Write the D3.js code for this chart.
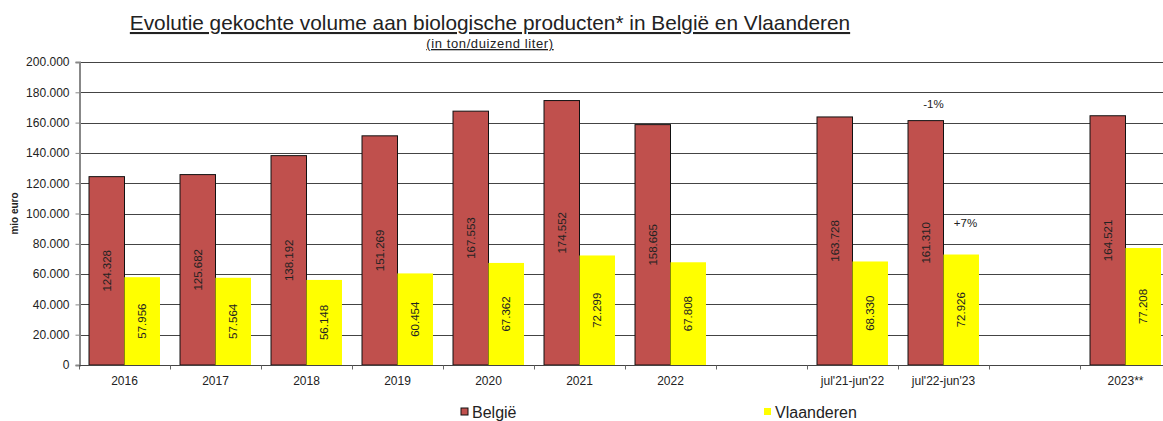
<!DOCTYPE html>
<html>
<head>
<meta charset="utf-8">
<script src="https://d3js.org/d3.v7.min.js"></script>
<style>
  body { margin: 0; background: #fff; }
  svg text { font-family: "Liberation Sans", Arial, sans-serif; fill: #222; }
</style>
</head>
<body>
<script>
// categories (empty strings are the gaps in the original chart)
var categories = ["2016", "2017", "2018", "2019", "2020", "2021", "2022", "",
                  "jul'21-jun'22", "jul'22-jun'23", " ", "2023**"];
var belgie = [124328, 125682, 138192, 151269, 167553, 174552, 158665, null,
              163728, 161310, null, 164521];
var vlaanderen = [57956, 57564, 56148, 60454, 67362, 72299, 67808, null,
                  68330, 72926, null, 77208];
var yTicks = [0, 20000, 40000, 60000, 80000, 100000, 120000, 140000, 160000, 180000, 200000];
var notes = [{cat: "jul'22-jun'23", text: "-1%", value: 169500, dx: -10},
             {cat: "jul'22-jun'23", text: "+7%", value: 91000, dx: 22}];

var W = 1163, H = 421;
var mLeft = 79, mRight = 1171, mTop = 62, mBottom = 365;

var svg = d3.select("body").append("svg")
  .attr("width", W).attr("height", H);

var fmt = function (v) {
  return v === 0 ? "0" : d3.format(",")(v).replace(/,/g, ".");
};

var x = d3.scaleBand().domain(categories).range([mLeft, mRight]);
var y = d3.scaleLinear().domain([0, 200000]).range([mBottom, mTop]);
var barW = x.bandwidth() * 0.39;
var pad = (x.bandwidth() - 2 * barW) / 2;

// title
svg.append("text")
  .attr("x", 490).attr("y", 30)
  .attr("text-anchor", "middle")
  .style("font-size", "20.8px")
  .style("text-decoration", "underline")
  .text("Evolutie gekochte volume aan biologische producten* in België en Vlaanderen");
svg.append("text")
  .attr("x", 490).attr("y", 48)
  .attr("text-anchor", "middle")
  .style("font-size", "13px")
  .style("letter-spacing", "0.6px")
  .style("text-decoration", "underline")
  .text("(in ton/duizend liter)");

// gridlines
svg.append("g").selectAll("line")
  .data(yTicks.filter(function (d) { return d > 0; }))
  .enter().append("line")
  .attr("x1", mLeft).attr("x2", mRight)
  .attr("y1", function (d) { return Math.round(y(d)) + 0.5; })
  .attr("y2", function (d) { return Math.round(y(d)) + 0.5; })
  .attr("stroke", "#444").attr("stroke-width", 1);

// y axis
var yAxis = svg.append("g")
  .attr("transform", "translate(" + (mLeft + 0.5) + ",0)")
  .call(d3.axisLeft(y).tickValues(yTicks).tickFormat(fmt).tickSize(4).tickPadding(6));
yAxis.select(".domain").attr("stroke", "#888").attr("stroke-width", 2);
yAxis.selectAll(".tick line").attr("stroke", "#888");
yAxis.selectAll("text").style("font-size", "12px")
  .style("font-family", "Liberation Sans, Arial, sans-serif").attr("fill", "#222");

svg.append("text")
  .attr("transform", "translate(18," + ((mTop + mBottom) / 2) + ") rotate(-90)")
  .attr("text-anchor", "middle")
  .style("font-size", "10px").style("font-weight", "bold")
  .text("mio euro");

// bars
var groups = svg.append("g").selectAll("g")
  .data(categories.map(function (c, i) { return {cat: c, b: belgie[i], v: vlaanderen[i]}; })
    .filter(function (d) { return d.b !== null; }))
  .enter().append("g")
  .attr("transform", function (d) { return "translate(" + (x(d.cat) + pad) + ",0)"; });

groups.append("rect")
  .attr("x", 0).attr("width", barW)
  .attr("y", function (d) { return y(d.b); })
  .attr("height", function (d) { return mBottom - y(d.b); })
  .attr("fill", "#C0504D").attr("stroke", "#111").attr("stroke-width", 1);

groups.append("rect")
  .attr("x", barW).attr("width", barW)
  .attr("y", function (d) { return y(d.v); })
  .attr("height", function (d) { return mBottom - y(d.v); })
  .attr("fill", "#FFFF00");

groups.append("text")
  .attr("transform", function (d) {
    return "translate(" + (barW / 2 + 4) + "," + ((y(d.b) + mBottom) / 2) + ") rotate(-90)";
  })
  .attr("text-anchor", "middle").style("font-size", "11.5px")
  .text(function (d) { return fmt(d.b); });

groups.append("text")
  .attr("transform", function (d) {
    return "translate(" + (barW * 1.5 + 4) + "," + ((y(d.v) + mBottom) / 2) + ") rotate(-90)";
  })
  .attr("text-anchor", "middle").style("font-size", "11.5px")
  .text(function (d) { return fmt(d.v); });

// x axis
var xAxis = svg.append("g")
  .attr("transform", "translate(0," + (mBottom + 0.5) + ")");
xAxis.append("line").attr("x1", mLeft).attr("x2", mRight)
  .attr("stroke", "#444").attr("stroke-width", 1);
xAxis.selectAll(".tk")
  .data(d3.range(categories.length + 1))
  .enter().append("line")
  .attr("x1", function (i) { return mLeft + i * x.bandwidth() + 0.5; })
  .attr("x2", function (i) { return mLeft + i * x.bandwidth() + 0.5; })
  .attr("y1", 0).attr("y2", 4).attr("stroke", "#666");
xAxis.selectAll("text")
  .data(categories)
  .enter().append("text")
  .attr("x", function (d) { return x(d) + x.bandwidth() / 2; })
  .attr("y", 19)
  .attr("text-anchor", "middle").style("font-size", "12px")
  .text(function (d) { return d.trim(); });

// notes
svg.selectAll(".note")
  .data(notes).enter().append("text")
  .attr("x", function (d) { return x(d.cat) + x.bandwidth() / 2 + d.dx; })
  .attr("y", function (d) { return y(d.value); })
  .attr("text-anchor", "middle").style("font-size", "11.5px")
  .text(function (d) { return d.text; });

// legend
var legend = [{name: "België", color: "#C0504D", stroke: "#111", x: 461},
              {name: "Vlaanderen", color: "#FFFF00", stroke: "none", x: 764}];
var lg = svg.selectAll(".lg").data(legend).enter().append("g")
  .attr("transform", function (d) { return "translate(" + d.x + ",408)"; });
lg.append("rect").attr("width", 7).attr("height", 7)
  .attr("fill", function (d) { return d.color; })
  .attr("stroke", function (d) { return d.stroke; });
lg.append("text").attr("x", 11).attr("y", 10)
  .style("font-size", "16px")
  .text(function (d) { return d.name; });
</script>
</body>
</html>
